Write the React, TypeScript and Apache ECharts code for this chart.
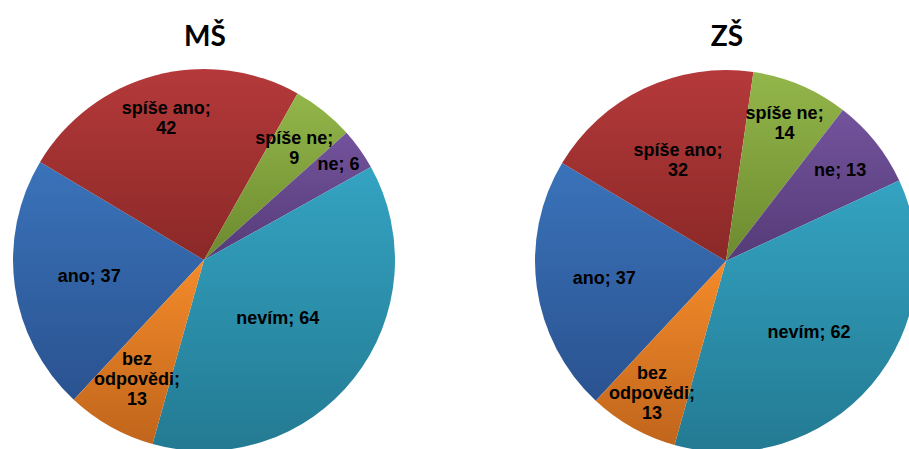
import React, { useEffect, useRef } from "react";
import * as echarts from "echarts";

const categories = ["ano", "spíše ano", "spíše ne", "ne", "nevím", "bez odpovědi"];
const msValues = [37, 42, 9, 6, 64, 13];
const zsValues = [37, 32, 14, 13, 62, 13];
const titles = ["MŠ", "ZŠ"];

// style: gradient colours (top, bottom) per category
const COLORS: [string, string][] = [
  ["#3A73BA", "#2A5290"],
  ["#B5393A", "#8A2927"],
  ["#93B64A", "#6C8A2F"],
  ["#73539C", "#553B78"],
  ["#34A3C2", "#237A92"],
  ["#F48B2A", "#C0651C"],
];
// style: distance of each label from the pie centre, px
const MS_LABEL_R = [116, 147, 144, 165, 94, 137];
const ZS_LABEL_R = [123, 112, 150, 146, 109, 151];

const RADIUS = 191;
const START_CW_FROM_TOP = 223;

function labelText(name: string, value: number) {
  if (name === "bez odpovědi") return "bez\nodpovědi;\n" + value;
  if (name.indexOf(" ") >= 0) return name + ";\n" + value;
  return name + "; " + value;
}

function buildData(values: number[], labelR: number[]) {
  const total = values.reduce((a, b) => a + b, 0);
  let acc = START_CW_FROM_TOP;
  return values.map((v, i) => {
    const span = (v / total) * 360;
    const mid = ((acc + span / 2) * Math.PI) / 180;
    acc += span;
    const d = labelR[i];
    return {
      name: categories[i],
      value: v,
      itemStyle: {
        color: new echarts.graphic.LinearGradient(0, 0, 0, 1, [
          { offset: 0, color: COLORS[i][0] },
          { offset: 1, color: COLORS[i][1] },
        ]),
      },
      label: {
        offset: [Math.sin(mid) * d, -Math.cos(mid) * d],
      },
    };
  });
}

export default function App() {
  const ref = useRef<HTMLDivElement>(null);
  useEffect(() => {
    if (!ref.current) return;
    const chart = echarts.init(ref.current, null, { renderer: "svg" });
    const commonSeries = {
      type: "pie",
      radius: RADIUS,
      startAngle: 90 - START_CW_FROM_TOP + 360,
      clockwise: true,
      avoidLabelOverlap: false,
      minShowLabelAngle: 0,
      silent: true,
      labelLine: { show: false },
      labelLayout: { hideOverlap: false },
      itemStyle: { borderWidth: 0 },
      label: {
        show: true,
        position: "center",
        color: "#000",
        fontFamily: "Liberation Sans",
        fontWeight: "bold",
        fontSize: 18,
        lineHeight: 20,
        align: "center",
        formatter: (p: any) => labelText(p.name, p.value),
      },
    };
    chart.setOption({
      animation: false,
      backgroundColor: "#fff",
      title: titles.map((t, i) => ({
        text: t,
        left: i === 0 ? 200 : 722,
        top: 16,
        textAlign: "center",
        textStyle: {
          fontFamily: "Lato",
          fontWeight: "bold",
          fontSize: 28,
          color: "#000",
        },
      })),
      series: [
        { ...commonSeries, center: [204, 260], data: buildData(msValues, MS_LABEL_R) },
        { ...commonSeries, center: [726, 261], data: buildData(zsValues, ZS_LABEL_R) },
      ],
    });
    return () => chart.dispose();
  }, []);
  return (
    <div
      ref={ref}
      style={{ position: "absolute", left: 0, top: 0, width: 909, height: 449 }}
    />
  );
}
